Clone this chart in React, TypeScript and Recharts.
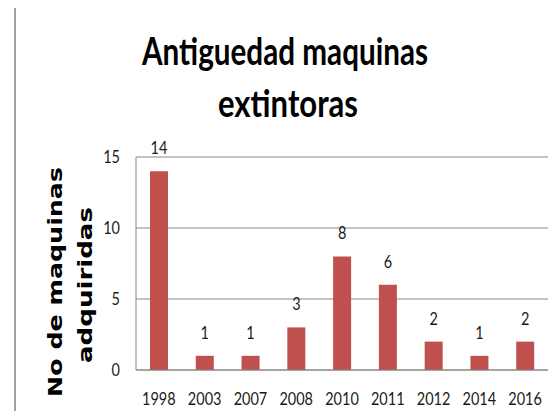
import { BarChart, Bar, XAxis, YAxis, CartesianGrid, LabelList } from "recharts";

const years = ["1998", "2003", "2007", "2008", "2010", "2011", "2012", "2014", "2016"];
const machines = [14, 1, 1, 3, 8, 6, 2, 1, 2];
const yTicks = [0, 5, 10, 15];
const titleLines = ["Antiguedad maquinas", "extintoras"];
const yLabelLines = ["No de maquinas", "adquiridas"];

const data = years.map((year, i) => ({ year, value: machines[i] }));

const FONT = "Lato, 'Liberation Sans', sans-serif";
const DIGIT_W = 8.4;

// narrow-looking number text, squeezed like the Calibri in the original
const NarrowText = ({ x, y, text, anchor, dy }: { x: number; y: number; text: string; anchor: string; dy: string }) => (
  <text
    x={x}
    y={y}
    dy={dy}
    textAnchor={anchor}
    fontFamily={FONT}
    fontSize={17}
    fill="#1a1a1a"
    textLength={text.length * DIGIT_W}
    lengthAdjust="spacingAndGlyphs"
  >
    {text}
  </text>
);

const XTick = (props: any) => (
  <NarrowText x={props.x} y={props.y} text={String(props.payload.value)} anchor="middle" dy="0.71em" />
);

const YTick = (props: any) => (
  <NarrowText x={props.x} y={props.y} text={String(props.payload.value)} anchor="end" dy="0.36em" />
);

const BarLabel = (props: any) => (
  <NarrowText
    x={props.x + props.width / 2}
    y={props.y - 17}
    text={String(props.value)}
    anchor="middle"
    dy="0"
  />
);

export default function App() {
  return (
    <div style={{ position: "relative", width: 557, height: 419, margin: -8, overflow: "hidden", background: "#fff" }}>
      <div
        style={{
          position: "absolute",
          left: 14,
          top: 6,
          width: 600,
          height: 500,
          borderTop: "2px solid #898989",
          borderLeft: "2px solid #a0a0a0"
        }}
      />
      <BarChart
        width={557}
        height={419}
        data={data}
        margin={{ top: 157, right: 9, left: 0, bottom: 19 }}
        style={{ position: "absolute", left: 0, top: 0 }}
      >
        <CartesianGrid vertical={false} stroke="#878787" />
        <XAxis
          dataKey="year"
          tick={<XTick />}
          tickLine={false}
          tickSize={0}
          tickMargin={23}
          axisLine={{ stroke: "#878787" }}
          height={30}
        />
        <YAxis
          domain={[0, 15]}
          ticks={yTicks}
          tick={<YTick />}
          tickLine={false}
          tickSize={0}
          tickMargin={16}
          axisLine={{ stroke: "#878787" }}
          width={136}
        />
        <Bar dataKey="value" fill="#C0504D" barSize={18} isAnimationActive={false}>
          <LabelList dataKey="value" content={<BarLabel />} />
        </Bar>
      </BarChart>
      <svg width={557} height={419} style={{ position: "absolute", left: 0, top: 0, pointerEvents: "none" }}>
        <g fontFamily="Lato, 'Open Sans', sans-serif" fontWeight="bold" fontSize={38} fill="#000">
          <text x={142} y={65} textLength={286} lengthAdjust="spacingAndGlyphs">
            {titleLines[0]}
          </text>
          <text x={218} y={117} textLength={140} lengthAdjust="spacingAndGlyphs">
            {titleLines[1]}
          </text>
        </g>
        <g fontFamily="'DejaVu Sans', Verdana, sans-serif" fontWeight="bold" fontSize={20} fill="#000">
          <text transform="translate(62,397) rotate(-90)" textLength={230} lengthAdjust="spacingAndGlyphs">
            {yLabelLines[0]}
          </text>
          <text transform="translate(92,363) rotate(-90)" textLength={156} lengthAdjust="spacingAndGlyphs">
            {yLabelLines[1]}
          </text>
        </g>
      </svg>
    </div>
  );
}
